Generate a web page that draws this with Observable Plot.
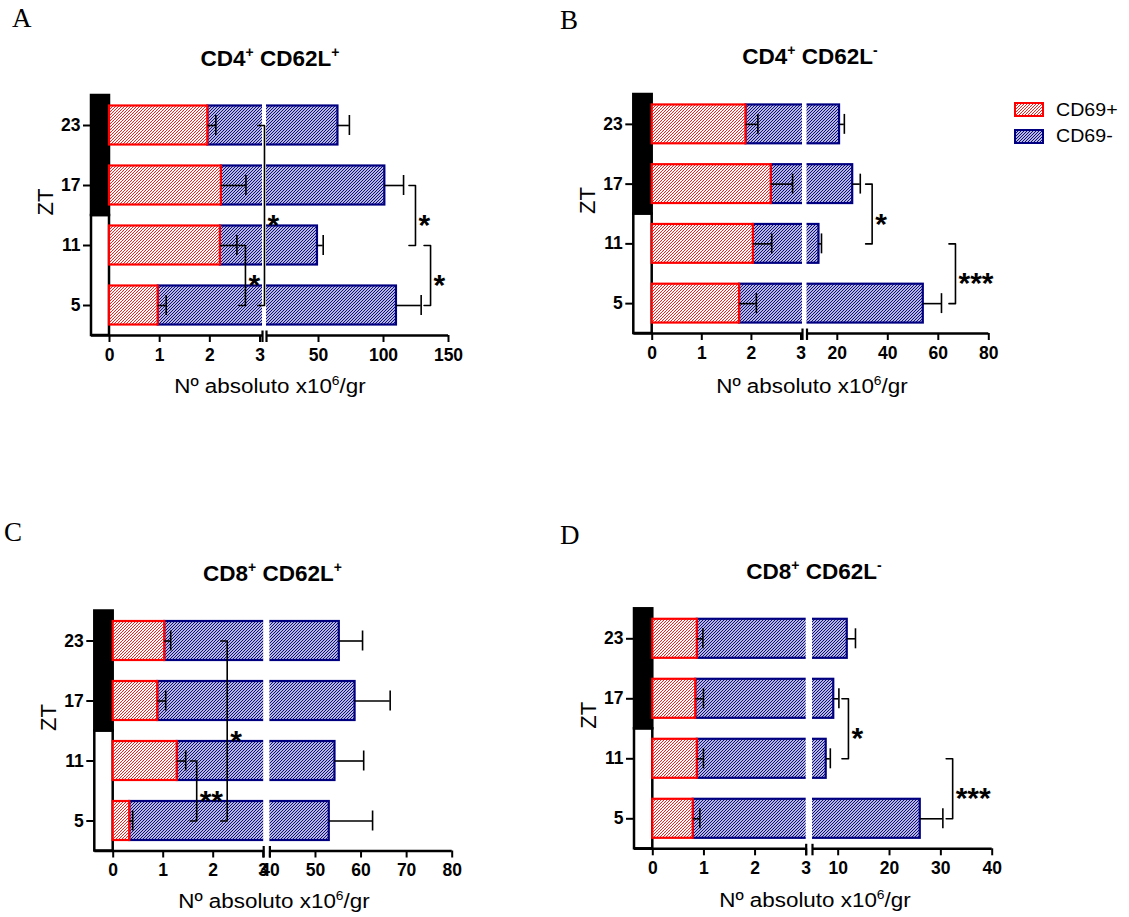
<!DOCTYPE html>
<html>
<head>
<meta charset="utf-8">
<script src="https://cdn.jsdelivr.net/npm/d3@7"></script>
<script src="https://cdn.jsdelivr.net/npm/@observablehq/plot@0.6"></script>
<style>
  html, body { margin: 0; padding: 0; background: #fff; }
  #page { position: relative; width: 1129px; height: 917px; overflow: hidden;
          font-family: "Liberation Sans", Arial, sans-serif; color: #000; }
  .abs { position: absolute; white-space: nowrap; }
  .letter { font-family: "Liberation Serif", "Times New Roman", serif; font-size: 27px; line-height: 27px; }
  .title { font-weight: bold; font-size: 22.5px; line-height: 22.5px; text-align: center; width: 400px; }
  .xtitle { font-size: 20px; line-height: 20px; text-align: center; width: 400px; transform: scaleX(1.12); }
  .legend { font-size: 18.5px; line-height: 18.5px; transform: scaleX(1.06); transform-origin: left center; }
  sup { font-size: 0.62em; line-height: 0; vertical-align: baseline; position: relative; top: -0.62em; }
</style>
</head>
<body>
<div id="page">
  <svg width="0" height="0" style="position:absolute">
    <defs>
      <pattern id="hatch-red" patternUnits="userSpaceOnUse" width="3" height="3">
        <rect width="3" height="3" fill="#fff"/>
        <path d="M-1,1 L1,-1 M0,3 L3,0 M2,4 L4,2" stroke="#ff1a1a" stroke-width="1"/>
      </pattern>
      <pattern id="hatch-blue" patternUnits="userSpaceOnUse" width="3" height="3">
        <rect width="3" height="3" fill="#fff"/>
        <path d="M-1,1 L1,-1 M0,3 L3,0 M2,4 L4,2" stroke="#000080" stroke-width="1.1"/>
      </pattern>
    </defs>
  </svg>
</div>
<script>
// Zeitgeber times, top to bottom
const zt = [23, 17, 11, 5];
const seriesNames = ["CD69+", "CD69-"];
const panelLetters = ["A", "B", "C", "D"];
const panelTitles = [
  "CD4<sup>+</sup> CD62L<sup>+</sup>",
  "CD4<sup>+</sup> CD62L<sup>-</sup>",
  "CD8<sup>+</sup> CD62L<sup>+</sup>",
  "CD8<sup>+</sup> CD62L<sup>-</sup>"
];
const xTitle = "Nº absoluto x10<sup>6</sup>/gr";
const yTitle = "ZT";

// A: CD4+ CD62L+  (x10^6 cells / g), mean and SEM per ZT
const a_cd69pos = [1.96, 2.23, 2.21, 0.97];
const a_cd69posSem = [0.16, 0.49, 0.33, 0.16];
const a_cd69neg = [63.0, 98.8, 47.0, 109.0];
const a_cd69negSem = [8.8, 14.4, 4.4, 19.0];
const a_ticks = [0, 1, 2, 3, 50, 100, 150];
const a_sig = [
  {from: 11, to: 5, x: 2.71, label: "*"},
  {from: 23, to: 5, x: 6.5, label: "*"},
  {from: 17, to: 11, x: 124.6, label: "*"},
  {from: 11, to: 5, x: 136.2, label: "*"}
];

// B: CD4+ CD62L-
const b_cd69pos = [1.89, 2.40, 2.04, 1.76];
const b_cd69posSem = [0.24, 0.43, 0.37, 0.34];
const b_cd69neg = [19.0, 23.7, 10.7, 52.3];
const b_cd69negSem = [1.9, 3.0, 1.0, 7.2];
const b_ticks = [0, 1, 2, 3, 20, 40, 60, 80];
const b_sig = [
  {from: 17, to: 11, x: 33.8, label: "*"},
  {from: 11, to: 5, x: 66.8, label: "***"}
];

// C: CD8+ CD62L+
const c_cd69pos = [1.03, 0.89, 1.28, 0.33];
const c_cd69posSem = [0.12, 0.16, 0.17, 0.06];
const c_cd69neg = [54.2, 57.8, 53.0, 52.7];
const c_cd69negSem = [5.1, 7.7, 6.3, 9.5];
const c_ticks = [0, 1, 2, 3, 40, 50, 60, 70, 80];
const c_sig = [
  {from: 11, to: 5, x: 1.67, label: "**"},
  {from: 23, to: 5, x: 2.28, label: "*"}
];

// D: CD8+ CD62L-
const d_cd69pos = [0.87, 0.84, 0.87, 0.79];
const d_cd69posSem = [0.11, 0.15, 0.12, 0.13];
const d_cd69neg = [10.9, 8.3, 6.8, 25.2];
const d_cd69negSem = [1.6, 1.0, 0.8, 4.4];
const d_ticks = [0, 1, 2, 3, 10, 20, 30, 40];
const d_sig = [
  {from: 17, to: 11, x: 12.0, label: "*"},
  {from: 11, to: 5, x: 32.3, label: "***"}
];

const panels = [
  {pos: a_cd69pos, posSem: a_cd69posSem, neg: a_cd69neg, negSem: a_cd69negSem, ticks: a_ticks, sig: a_sig},
  {pos: b_cd69pos, posSem: b_cd69posSem, neg: b_cd69neg, negSem: b_cd69negSem, ticks: b_ticks, sig: b_sig},
  {pos: c_cd69pos, posSem: c_cd69posSem, neg: c_cd69neg, negSem: c_cd69negSem, ticks: c_ticks, sig: c_sig},
  {pos: d_cd69pos, posSem: d_cd69posSem, neg: d_cd69neg, negSem: d_cd69negSem, ticks: d_ticks, sig: d_sig}
];

// Page layout: broken x axis = [light/dark strip, 0, end of first segment, start of second, max]
const layouts = [
  {ox: 0,   oy: 0,   xDomain: [-0.36, 0, 3.05, 10, 150], xPx: [91, 109, 262, 266, 448],
   yTop: 95, yAxis: 335, letter: [12, 28], title: [270, 67], xt: [270, 393]},
  {ox: 560, oy: 0,   xDomain: [-0.36, 0, 3.03, 8, 80], xPx: [633.3, 651.7, 802, 806.5, 988.3],
   yTop: 94, yAxis: 333, letter: [560, 30], title: [810, 65], xt: [811.7, 393]},
  {ox: 0,   oy: 460, xDomain: [-0.36, 0, 3.01, 40, 80], xPx: [94.3, 112.7, 263.2, 269.4, 451.7],
   yTop: 610.5, yAxis: 850.5, letter: [4, 542], title: [272.5, 581.7], xt: [273.5, 908]},
  {ox: 560, oy: 460, xDomain: [-0.36, 0, 3.0, 5, 40], xPx: [634, 652.3, 805.7, 812, 991.7],
   yTop: 608.3, yAxis: 848.3, letter: [560, 545], title: [814, 580], xt: [815, 906.7]}
];

const FONT = "'Liberation Sans', Arial, sans-serif";
const RED = "#ff0000";
const NAVY = "#000080";
const W = 560, H = 460;
const page = document.getElementById("page");

function addText(cls, html, left, baseline, fs, ascentRatio, center) {
  const el = document.createElement("div");
  el.className = "abs " + cls;
  el.innerHTML = html;
  el.style.top = (baseline - ascentRatio * fs) + "px";
  el.style.left = (center ? left - 200 : left) + "px";
  page.appendChild(el);
}

function drawPanel(p, L, idx) {
  const ox = L.ox, oy = L.oy;
  const xRange = L.xPx.map(v => v - ox);
  const sc = d3.scaleLinear(L.xDomain, xRange);
  const xmin = L.xDomain[0], lo = L.xDomain[2], hi = L.xDomain[3], xmax = L.xDomain[4];
  const rows = zt.map((z, i) => ({
    zt: z, pos: p.pos[i], posSem: p.posSem[i],
    total: p.pos[i] + p.neg[i], negSem: p.negSem[i]
  }));
  const half = 1.95, cap = 1.0;
  const stub = x => sc.invert(sc(x) - 6.5);
  const bracketPts = p.sig.flatMap((s, k) => [
    {k, x: stub(s.x), y: s.from}, {k, x: s.x, y: s.from},
    {k, x: s.x, y: s.to}, {k, x: stub(s.x), y: s.to}
  ]);

  const svg = Plot.plot({
    width: W, height: H,
    marginLeft: L.xPx[0] - ox, marginRight: W - (L.xPx[4] - ox),
    marginTop: L.yTop - oy, marginBottom: H - (L.yAxis - oy),
    style: {fontFamily: FONT, background: "transparent", overflow: "visible", color: "#000"},
    x: {type: "linear", domain: L.xDomain, range: xRange},
    y: {type: "linear", domain: [2, 26]},
    marks: [
      // light (ZT 2-14) and dark (ZT 14-26) phases
      Plot.rect([0], {x1: xmin, x2: 0, y1: 2, y2: 14, fill: "white", stroke: "black", strokeWidth: 2.5}),
      Plot.rect([0], {x1: xmin, x2: 0, y1: 14, y2: 26, fill: "black", stroke: "black", strokeWidth: 2.5}),
      // stacked bars: CD69- on top of CD69+
      Plot.rect(rows, {x1: "pos", x2: "total", y1: d => d.zt - half, y2: d => d.zt + half,
        fill: "url(#hatch-blue)", stroke: NAVY, strokeWidth: 2.2}),
      Plot.rect(rows, {x1: 0, x2: "pos", y1: d => d.zt - half, y2: d => d.zt + half,
        fill: "url(#hatch-red)", stroke: RED, strokeWidth: 2.2}),
      // axis break gap
      Plot.rect([0], {x1: lo, x2: hi, y1: 2.3, y2: 26, fill: "white"}),
      Plot.ruleY([2], {x1: xmin, x2: lo, strokeWidth: 2.6}),
      Plot.ruleY([2], {x1: hi, x2: xmax, strokeWidth: 2.6}),
      Plot.ruleX([lo, hi], {y1: 1.3, y2: 2.45, strokeWidth: 2.2}),
      // SEM error bars
      Plot.ruleY(rows, {y: "zt", x1: "pos", x2: d => d.pos + d.posSem, strokeWidth: 1.6}),
      Plot.ruleX(rows, {x: d => d.pos + d.posSem, y1: d => d.zt - cap, y2: d => d.zt + cap, strokeWidth: 1.6}),
      Plot.ruleY(rows, {y: "zt", x1: "total", x2: d => d.total + d.negSem, strokeWidth: 1.6}),
      Plot.ruleX(rows, {x: d => d.total + d.negSem, y1: d => d.zt - cap, y2: d => d.zt + cap, strokeWidth: 1.6}),
      // significance brackets
      Plot.line(bracketPts, {x: "x", y: "y", z: "k", strokeWidth: 1.6}),
      Plot.text(p.sig, {x: "x", y: d => (d.from + d.to) / 2, text: "label",
        textAnchor: "start", dx: 3, dy: 10, fontSize: 30, fontWeight: "bold"}),
      Plot.axisX({ticks: p.ticks, tickFormat: d => String(d), tickSize: 7, tickPadding: 6,
        fontSize: 17.5, fontWeight: "bold", strokeWidth: 2, label: null}),
      Plot.axisY({ticks: zt, tickFormat: d => String(d), tickSize: 8, tickPadding: 3,
        fontSize: 17.5, fontWeight: "bold", strokeWidth: 2, label: null}),
      Plot.text([yTitle], {text: d => d, frameAnchor: "left", dx: -46, rotate: -90, fontSize: 22})
    ]
  });

  // heavy tick labels
  d3.select(svg).selectAll("g[aria-label*='tick label']")
    .attr("font-weight", "bold").style("font-weight", "700")
    .selectAll("text").style("font-weight", "700");

  const holder = document.createElement("div");
  holder.className = "abs";
  holder.style.left = ox + "px";
  holder.style.top = oy + "px";
  holder.appendChild(svg);
  page.appendChild(holder);

  addText("letter", panelLetters[idx], L.letter[0], L.letter[1], 27, 0.8375, false);
  addText("title", panelTitles[idx], L.title[0], L.title[1], 22.5, 0.845, true);
  addText("xtitle", xTitle, L.xt[0], L.xt[1], 20, 0.845, true);
}

panels.forEach((p, i) => drawPanel(p, layouts[i], i));

// legend for the two stacked series
const legendFill = ["url(#hatch-red)", "url(#hatch-blue)"];
const legendStroke = [RED, NAVY];
const legendY = [103, 129.5];
seriesNames.forEach((name, i) => {
  const sw = document.createElement("div");
  sw.className = "abs";
  sw.style.left = "1014px";
  sw.style.top = (legendY[i] - 1) + "px";
  sw.innerHTML = `<svg width="31" height="16"><rect x="1" y="1" width="28" height="13" fill="${legendFill[i]}" stroke="${legendStroke[i]}" stroke-width="2"/></svg>`;
  page.appendChild(sw);
  addText("legend", name, 1056, legendY[i] + 13.5, 18.5, 0.845, false);
});
</script>
</body>
</html>
